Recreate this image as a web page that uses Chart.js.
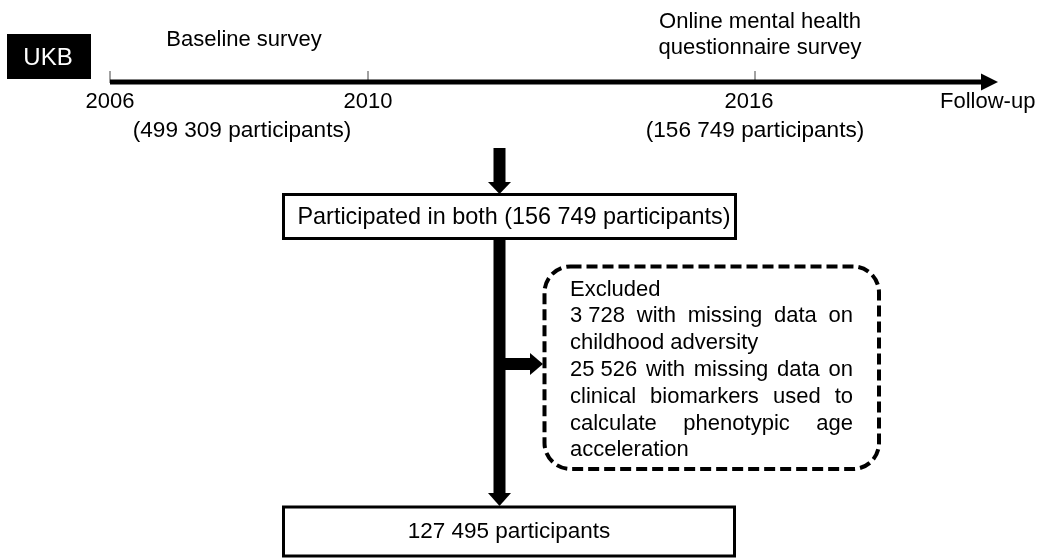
<!DOCTYPE html>
<html>
<head>
<meta charset="utf-8">
<script src="https://cdn.jsdelivr.net/npm/chart.js@4"></script>
<style>
  html, body { margin: 0; padding: 0; background: #fff; }
  #wrap { width: 1042px; height: 559px; position: relative; }
</style>
</head>
<body>
<div id="wrap"><canvas id="c" width="1042" height="559"></canvas></div>
<script>
// ---- data ----
const cohort = "UKB";
const timelineYears = [2006, 2010, 2016];
const timelineTickLabels = ["2006", "2010", "2016"];
const surveyNames = ["Baseline survey", "Online mental health\nquestionnaire survey"];
const surveyYears = [2008, 2016];
const surveyParticipants = ["499 309", "156 749"];
const followUpLabel = "Follow-up";
const bothParticipants = "156 749";
const excludedCounts = ["3 728", "25 526"];
const finalParticipants = "127 495";

// ---- layout (styling only) ----
const FAM = '"Liberation Sans", Arial, sans-serif';
const FONT = '22px ' + FAM;
const pxPerYear = 64.5;
const originPx = 110;
const xMin = 2006 - originPx / pxPerYear;
const xMax = xMin + 1042 / pxPerYear;
const lineY = 82;
const lineEndYear = 2006 + (982 - originPx) / pxPerYear;

function justifyLine(ctx, tokens, x0, x1, y, justify) {
  if (!justify || tokens.length < 2) { ctx.textAlign = 'left'; ctx.fillText(tokens.join(' '), x0, y); return; }
  const widths = tokens.map(t => ctx.measureText(t).width);
  const total = widths.reduce((a, b) => a + b, 0);
  const gap = (x1 - x0 - total) / (tokens.length - 1);
  let x = x0;
  ctx.textAlign = 'left';
  tokens.forEach((t, i) => { ctx.fillText(t, x, y); x += widths[i] + gap; });
}

const diagram = {
  id: 'diagram',
  afterDatasetsDraw(chart) {
    const ctx = chart.ctx;
    const xs = chart.scales.x;
    ctx.save();
    ctx.font = FONT;
    ctx.fillStyle = '#000';
    ctx.textBaseline = 'alphabetic';

    // cohort box
    ctx.fillRect(7, 34, 84, 45);
    ctx.fillStyle = '#fff';
    ctx.textAlign = 'center';
    ctx.font = '24px ' + FAM;
    ctx.fillText(cohort, 48, 65);
    ctx.font = FONT;
    ctx.fillStyle = '#000';

    // timeline arrowhead
    const endPx = xs.getPixelForValue(lineEndYear);
    ctx.beginPath();
    ctx.moveTo(endPx - 1, lineY - 8.5);
    ctx.lineTo(endPx + 16, lineY);
    ctx.lineTo(endPx - 1, lineY + 8.5);
    ctx.closePath();
    ctx.fill();

    // tick labels
    ctx.textAlign = 'center';
    timelineYears.forEach((yr, i) => {
      const dx = i === 2 ? -6 : 0;
      ctx.fillText(timelineTickLabels[i], xs.getPixelForValue(yr) + dx, 108);
    });
    ctx.textAlign = 'left';
    ctx.fillText(followUpLabel, 940, 108);

    // survey labels
    ctx.textAlign = 'center';
    ctx.fillText(surveyNames[0], 244, 46);
    ctx.font = '22.6px ' + FAM;
    ctx.fillText('(' + surveyParticipants[0] + ' participants)', 242, 137);
    ctx.fillText('(' + surveyParticipants[1] + ' participants)', xs.getPixelForValue(surveyYears[1]), 137);
    ctx.font = FONT;
    const s2 = surveyNames[1].split('\n');
    ctx.fillText(s2[0], 760, 28);
    ctx.fillText(s2[1], 760, 54);

    // top arrow
    const cx = 499.5;
    ctx.fillRect(cx - 6, 148, 12, 35);
    ctx.beginPath();
    ctx.moveTo(cx - 11.5, 182); ctx.lineTo(cx + 11.5, 182); ctx.lineTo(cx, 194); ctx.closePath(); ctx.fill();

    // box 1
    ctx.lineWidth = 3;
    ctx.strokeStyle = '#000';
    ctx.strokeRect(283.5, 194.5, 452, 44);
    ctx.font = '23.4px ' + FAM;
    ctx.fillText('Participated in both (' + bothParticipants + ' participants)', 514, 224);
    ctx.font = FONT;

    // main vertical arrow
    ctx.fillRect(cx - 6, 240, 12, 254);
    ctx.beginPath();
    ctx.moveTo(cx - 11.5, 493); ctx.lineTo(cx + 11.5, 493); ctx.lineTo(cx, 506); ctx.closePath(); ctx.fill();

    // side arrow
    ctx.fillRect(cx + 5, 358, 26, 12);
    ctx.beginPath();
    ctx.moveTo(530, 353); ctx.lineTo(530, 375); ctx.lineTo(543, 364); ctx.closePath(); ctx.fill();

    // dashed rounded box
    ctx.lineWidth = 4;
    ctx.setLineDash([11, 5]);
    ctx.beginPath();
    if (ctx.roundRect) ctx.roundRect(544.5, 266.5, 334.5, 202.5, 26);
    else ctx.rect(544.5, 266.5, 334.5, 202.5);
    ctx.stroke();
    ctx.setLineDash([]);

    const lines = [
      { t: ['Excluded'], j: false },
      { t: [excludedCounts[0], 'with', 'missing', 'data', 'on'], j: true },
      { t: ['childhood', 'adversity'], j: false },
      { t: [excludedCounts[1], 'with', 'missing', 'data', 'on'], j: true },
      { t: ['clinical', 'biomarkers', 'used', 'to'], j: true },
      { t: ['calculate', 'phenotypic', 'age'], j: true },
      { t: ['acceleration'], j: false }
    ];
    lines.forEach((ln, i) => justifyLine(ctx, ln.t, 570, 853, 295.5 + i * 26.8, ln.j));

    // box 2
    ctx.lineWidth = 3;
    ctx.strokeRect(283.5, 507, 451, 49);
    ctx.textAlign = 'center';
    ctx.font = '22.5px ' + FAM;
    ctx.fillText(finalParticipants + ' participants', 509, 538);

    ctx.restore();
  }
};

new Chart(document.getElementById('c'), {
  type: 'scatter',
  data: {
    datasets: [
      {
        type: 'line',
        data: [{ x: timelineYears[0], y: lineY }, { x: lineEndYear, y: lineY }],
        borderColor: '#000', borderWidth: 5, pointRadius: 0, borderCapStyle: 'butt'
      },
      {
        data: timelineYears.map(y => ({ x: y, y: lineY - 5 })),
        pointStyle: 'line', rotation: 90, pointRadius: 6,
        borderColor: '#444', borderWidth: 1, backgroundColor: '#444'
      }
    ]
  },
  options: {
    responsive: false, animation: false,
    layout: { padding: 0, autoPadding: false },
    plugins: { legend: { display: false }, tooltip: { enabled: false } },
    events: [],
    scales: {
      x: { type: 'linear', min: xMin, max: xMax, display: false },
      y: { type: 'linear', min: 0, max: 559, reverse: true, display: false }
    }
  },
  plugins: [diagram]
});
</script>
</body>
</html>
